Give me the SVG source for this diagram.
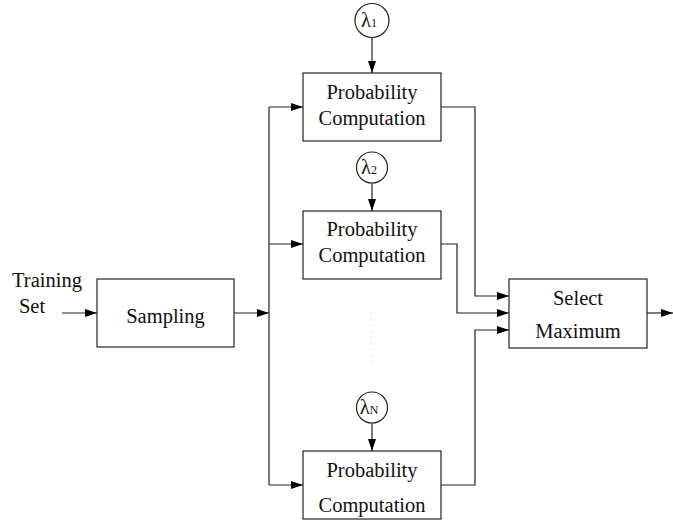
<svg xmlns="http://www.w3.org/2000/svg" width="673" height="523" viewBox="0 0 673 523">
<defs>
<style>
.box{fill:#fff;stroke:#222;stroke-width:1.2}
.ln{fill:none;stroke:#222;stroke-width:1.2}
.t{font-family:"Liberation Serif","Times New Roman",serif;font-size:20.5px;fill:#111;text-anchor:middle}
.s{font-size:12px}
</style>
<marker id="ah" viewBox="0 0 12 8" refX="12" refY="4" markerWidth="12" markerHeight="8" markerUnits="userSpaceOnUse" orient="auto">
<path d="M0,0 L12,4 L0,8 z" fill="#000"/>
</marker>
</defs>
<rect width="673" height="523" fill="#fff"/>
<g id="connectors">
<path class="ln" d="M62,313 H97" marker-end="url(#ah)"/>
<path class="ln" d="M234,313 H269" marker-end="url(#ah)"/>
<path class="ln" d="M269,107 V485"/>
<path class="ln" d="M269,107 H303" marker-end="url(#ah)"/>
<path class="ln" d="M269,244 H303" marker-end="url(#ah)"/>
<path class="ln" d="M269,485 H303" marker-end="url(#ah)"/>
<path class="ln" d="M372,37.5 V73" marker-end="url(#ah)"/>
<path class="ln" d="M372,182 V211" marker-end="url(#ah)"/>
<path class="ln" d="M372,422 V451" marker-end="url(#ah)"/>
<path class="ln" d="M441,107 H475 V296 H509" marker-end="url(#ah)"/>
<path class="ln" d="M441,244 H457 V313 H509" marker-end="url(#ah)"/>
<path class="ln" d="M441,485 H475 V330 H509" marker-end="url(#ah)"/>
<path class="ln" d="M647,313 H673" marker-end="url(#ah)"/>
<path d="M371,313 V362" fill="none" stroke="#ccc" stroke-width="1" stroke-dasharray="1,5"/>
</g>
<g id="training">
<text class="t" x="47" y="287">Training</text>
<text class="t" x="32" y="313">Set</text>
</g>
<g id="sampling">
<rect class="box" x="97" y="279" width="137" height="68"/>
<text class="t" x="165.5" y="323">Sampling</text>
</g>
<g id="lambda1">
<circle class="box" cx="372" cy="20.5" r="17"/>
<text class="t" x="369" y="27">λ<tspan class="s">1</tspan></text>
</g>
<g id="prob1">
<rect class="box" x="303" y="73" width="138" height="68"/>
<text class="t" x="372" y="99">Probability</text>
<text class="t" x="372" y="125">Computation</text>
</g>
<g id="lambda2">
<circle class="box" cx="372" cy="167.5" r="15.5"/>
<text class="t" x="369" y="174">λ<tspan class="s">2</tspan></text>
</g>
<g id="prob2">
<rect class="box" x="303" y="211" width="138" height="68"/>
<text class="t" x="372" y="236">Probability</text>
<text class="t" x="372" y="262">Computation</text>
</g>
<g id="lambdaN">
<circle class="box" cx="372" cy="407.5" r="15.5"/>
<text class="t" x="369" y="414">λ<tspan class="s">N</tspan></text>
</g>
<g id="probN">
<rect class="box" x="303" y="451" width="138" height="68"/>
<text class="t" x="372" y="477">Probability</text>
<text class="t" x="372" y="512">Computation</text>
</g>
<g id="select">
<rect class="box" x="509" y="279" width="138" height="69"/>
<text class="t" x="578" y="305">Select</text>
<text class="t" x="578" y="338">Maximum</text>
</g>
</svg>
